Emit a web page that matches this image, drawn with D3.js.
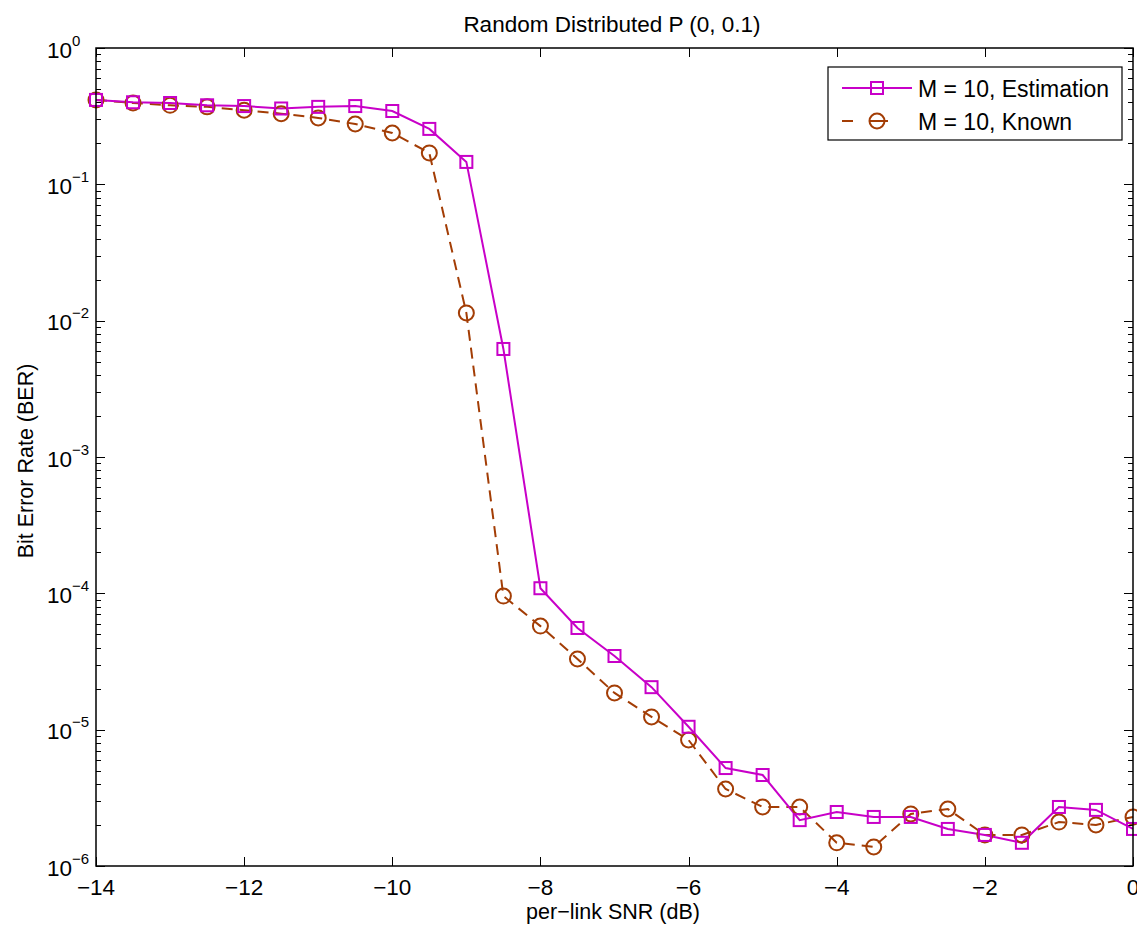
<!DOCTYPE html>
<html>
<head>
<meta charset="utf-8">
<script src="https://cdn.jsdelivr.net/npm/d3@7"></script>
<style>
  html, body { margin: 0; padding: 0; background: #fff; }
  svg { display: block; font-family: "Liberation Sans", Arial, sans-serif; }
</style>
</head>
<body>
<svg id="chart" width="1137" height="932"></svg>
<script>
// per-link SNR in dB
const snr = [-14, -13.5, -13, -12.5, -12, -11.5, -11, -10.5, -10, -9.5, -9, -8.5, -8, -7.5, -7,
             -6.5, -6, -5.5, -5, -4.5, -4, -3.5, -3, -2.5, -2, -1.5, -1, -0.5, 0];

// BER with channel estimation
const berEstimation = [0.416, 0.40, 0.395, 0.38, 0.375, 0.36, 0.37, 0.375, 0.345, 0.255, 0.146,
                       0.0062, 1.09e-4, 5.57e-5, 3.47e-5, 2.05e-5, 1.05e-5, 5.23e-6, 4.65e-6,
                       2.17e-6, 2.49e-6, 2.29e-6, 2.29e-6, 1.87e-6, 1.69e-6, 1.48e-6, 2.71e-6,
                       2.58e-6, 1.87e-6];

// BER with known channel
const berKnown = [0.416, 0.395, 0.38, 0.37, 0.35, 0.33, 0.307, 0.277, 0.238, 0.170, 0.0114,
                  9.55e-5, 5.75e-5, 3.3e-5, 1.86e-5, 1.24e-5, 8.4e-6, 3.67e-6, 2.71e-6,
                  2.71e-6, 1.48e-6, 1.38e-6, 2.41e-6, 2.62e-6, 1.69e-6, 1.69e-6, 2.1e-6,
                  2.0e-6, 2.29e-6];

const xTicks = [-14, -12, -10, -8, -6, -4, -2, 0];
const xTickLabels = ["\u221214", "\u221212", "\u221210", "\u22128", "\u22126", "\u22124", "\u22122", "0"];
const yExponents = [0, -1, -2, -3, -4, -5, -6];
const seriesNames = ["M = 10, Estimation", "M = 10, Known"];

const titleText = "Random Distributed P (0, 0.1)";
const xLabelText = "per\u2212link SNR (dB)";
const yLabelText = "Bit Error Rate (BER)";

const margin = { left: 96, top: 48, right: 1133, bottom: 866 };
const magenta = "#c800c8";
const brown = "#a33d05";

const svg = d3.select("#chart");

const x = d3.scaleLinear().domain([-14, 0]).range([margin.left, margin.right]);
const y = d3.scaleLog().domain([1e-6, 1]).range([margin.bottom, margin.top]);

const plotW = margin.right - margin.left;
const plotH = margin.bottom - margin.top;

// plot background
svg.append("rect")
  .attr("x", margin.left).attr("y", margin.top)
  .attr("width", plotW).attr("height", plotH)
  .attr("fill", "#fff");

const tickG = svg.append("g").attr("stroke", "#000").attr("stroke-width", 1);

// x ticks, inward from bottom and top
xTicks.forEach(v => {
  const px = Math.round(x(v)) + 0.5;
  tickG.append("line").attr("x1", px).attr("x2", px).attr("y1", margin.bottom).attr("y2", margin.bottom - 9);
  tickG.append("line").attr("x1", px).attr("x2", px).attr("y1", margin.top).attr("y2", margin.top + 9);
});

// y major and minor ticks from the log scale
y.ticks().forEach(v => {
  const py = Math.round(y(v)) + 0.5;
  const major = Math.abs(Math.log10(v) - Math.round(Math.log10(v))) < 1e-9;
  const len = major ? 9 : 5;
  tickG.append("line").attr("x1", margin.left).attr("x2", margin.left + len).attr("y1", py).attr("y2", py);
  tickG.append("line").attr("x1", margin.right).attr("x2", margin.right - len).attr("y1", py).attr("y2", py);
});

// x tick labels
svg.append("g").selectAll("text")
  .data(xTicks)
  .join("text")
  .attr("x", d => x(d))
  .attr("y", 895)
  .attr("text-anchor", "middle")
  .attr("font-size", 22.5)
  .attr("fill", "#000")
  .text((d, i) => xTickLabels[i]);

// y tick labels as 10 with superscript exponent
const yLab = svg.append("g").selectAll("text")
  .data(yExponents)
  .join("text")
  .attr("x", 47)
  .attr("y", d => y(Math.pow(10, d)) + 9.5)
  .attr("text-anchor", "start")
  .attr("font-size", 22.5)
  .attr("fill", "#000");
yLab.append("tspan").text("10");
yLab.append("tspan")
  .attr("font-size", 15)
  .attr("dy", -12)
  .text(d => d === 0 ? "0" : "\u2212" + Math.abs(d));

// series lines
const line = d3.line().x(d => x(d[0])).y(d => y(d[1]));

svg.append("path")
  .datum(snr.map((s, i) => [s, berKnown[i]]))
  .attr("d", line)
  .attr("fill", "none")
  .attr("stroke", brown)
  .attr("stroke-width", 2)
  .attr("stroke-dasharray", "11,7");

svg.append("path")
  .datum(snr.map((s, i) => [s, berEstimation[i]]))
  .attr("d", line)
  .attr("fill", "none")
  .attr("stroke", magenta)
  .attr("stroke-width", 2);

// markers
svg.append("g").selectAll("circle")
  .data(snr.map((s, i) => [s, berKnown[i]]))
  .join("circle")
  .attr("cx", d => x(d[0]))
  .attr("cy", d => y(d[1]))
  .attr("r", 7.5)
  .attr("fill", "none")
  .attr("stroke", brown)
  .attr("stroke-width", 2);

svg.append("g").selectAll("rect")
  .data(snr.map((s, i) => [s, berEstimation[i]]))
  .join("rect")
  .attr("x", d => x(d[0]) - 6)
  .attr("y", d => y(d[1]) - 6)
  .attr("width", 12)
  .attr("height", 12)
  .attr("fill", "none")
  .attr("stroke", magenta)
  .attr("stroke-width", 2);

// axes box
svg.append("rect")
  .attr("x", margin.left).attr("y", margin.top)
  .attr("width", plotW).attr("height", plotH)
  .attr("fill", "none")
  .attr("stroke", "#000")
  .attr("stroke-width", 1.5);

// legend
const leg = svg.append("g");
leg.append("rect")
  .attr("x", 828).attr("y", 67).attr("width", 294).attr("height", 73)
  .attr("fill", "#fff").attr("stroke", "#000").attr("stroke-width", 1.2);

const legRows = [
  { y: 88, color: magenta, dash: null, marker: "square" },
  { y: 121, color: brown, dash: "11,24", marker: "circle" }
];
legRows.forEach((r, i) => {
  leg.append("line")
    .attr("x1", 842).attr("x2", 912).attr("y1", r.y).attr("y2", r.y)
    .attr("stroke", r.color).attr("stroke-width", 2)
    .attr("stroke-dasharray", r.dash);
  if (r.marker === "square") {
    leg.append("rect").attr("x", 871).attr("y", r.y - 6).attr("width", 12).attr("height", 12)
      .attr("fill", "none").attr("stroke", r.color).attr("stroke-width", 2);
  } else {
    leg.append("circle").attr("cx", 877).attr("cy", r.y).attr("r", 7.5)
      .attr("fill", "none").attr("stroke", r.color).attr("stroke-width", 2);
    leg.append("line").attr("x1", 870).attr("x2", 884).attr("y1", r.y).attr("y2", r.y)
      .attr("stroke", r.color).attr("stroke-width", 2);
  }
  leg.append("text")
    .attr("x", 918).attr("y", r.y + 8.5)
    .attr("font-size", 23).attr("fill", "#000")
    .text(seriesNames[i]);
});

// title and axis labels
svg.append("text")
  .attr("x", 612).attr("y", 32)
  .attr("text-anchor", "middle").attr("font-size", 22.5).attr("fill", "#000")
  .text(titleText);

svg.append("text")
  .attr("x", 613).attr("y", 919)
  .attr("text-anchor", "middle").attr("font-size", 21.5).attr("fill", "#000")
  .text(xLabelText);

svg.append("text")
  .attr("transform", "translate(33, 461) rotate(-90)")
  .attr("text-anchor", "middle").attr("font-size", 21.5).attr("fill", "#000")
  .text(yLabelText);
</script>
</body>
</html>
